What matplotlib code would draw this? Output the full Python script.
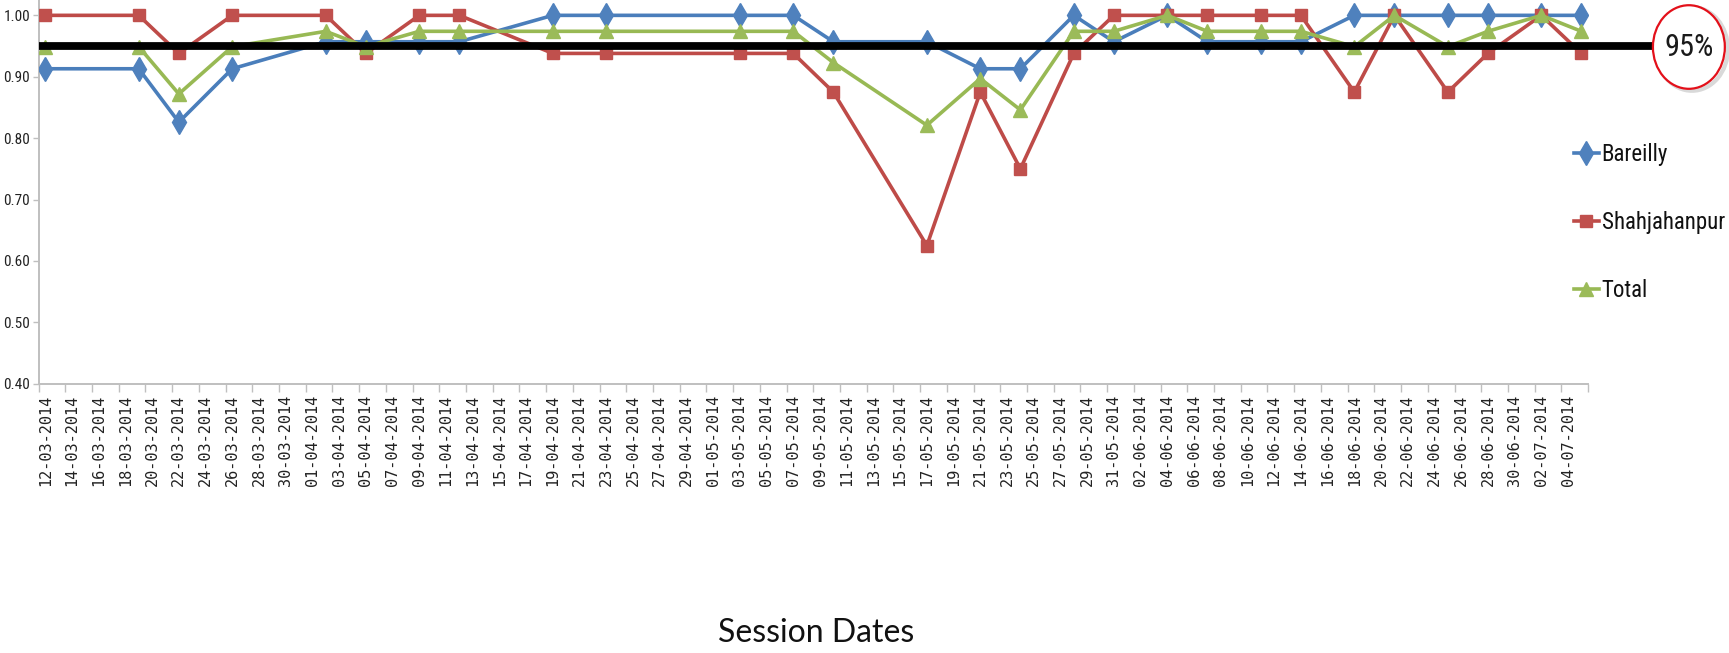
from __future__ import annotations

import matplotlib

matplotlib.use("Agg")

import matplotlib.dates as mdates
import matplotlib.pyplot as plt
import matplotlib.transforms as mtransforms
from matplotlib import font_manager
from matplotlib.patches import Ellipse
import pandas as pd


SESSION_DATES = [
    "12-03-2014", "19-03-2014", "22-03-2014", "26-03-2014", "02-04-2014",
    "05-04-2014", "09-04-2014", "12-04-2014", "19-04-2014", "23-04-2014",
    "03-05-2014", "07-05-2014", "10-05-2014", "17-05-2014", "21-05-2014",
    "24-05-2014", "28-05-2014", "31-05-2014", "04-06-2014", "07-06-2014",
    "11-06-2014", "14-06-2014", "18-06-2014", "21-06-2014", "25-06-2014",
    "28-06-2014", "02-07-2014", "05-07-2014",
]

BAREILLY = [
    0.913, 0.913, 0.826, 0.913, 0.957, 0.957, 0.957, 0.957, 1.000, 1.000,
    1.000, 1.000, 0.957, 0.957, 0.913, 0.913, 1.000, 0.957, 1.000, 0.957,
    0.957, 0.957, 1.000, 1.000, 1.000, 1.000, 1.000, 1.000,
]
SHAHJAHANPUR = [
    1.000, 1.000, 0.938, 1.000, 1.000, 0.938, 1.000, 1.000, 0.938, 0.938,
    0.938, 0.938, 0.875, 0.625, 0.875, 0.750, 0.938, 1.000, 1.000, 1.000,
    1.000, 1.000, 0.875, 1.000, 0.875, 0.938, 1.000, 0.938,
]
TOTAL = [
    0.949, 0.949, 0.872, 0.949, 0.974, 0.949, 0.974, 0.974, 0.974, 0.974,
    0.974, 0.974, 0.923, 0.821, 0.897, 0.846, 0.974, 0.974, 1.000, 0.974,
    0.974, 0.974, 0.949, 1.000, 0.949, 0.974, 1.000, 0.974,
]

TARGET = 0.95
TARGET_LABEL = "95%"

AXIS_START = "12-03-2014"
AXIS_END = "06-07-2014"
LABEL_LAST = "04-07-2014"

SERIES = [
    ("Bareilly", BAREILLY, "#4A7EBB", "#4F81BD", "d", 12),
    ("Shahjahanpur", SHAHJAHANPUR, "#BE4B48", "#C0504D", "s", 8.5),
    ("Total", TOTAL, "#98B954", "#9BBB59", "^", 9.5),
]


def _pick_family(*names: str) -> str:
    available = {f.name for f in font_manager.fontManager.ttflist}
    for name in names:
        if name in available:
            return name
    return "DejaVu Sans"


NARROW = _pick_family("Liberation Sans Narrow", "Roboto Condensed", "Liberation Sans")
TITLE_FONT = _pick_family("Lato", "Open Sans", "DejaVu Sans")


def to_num(day: str) -> float:
    return mdates.date2num(pd.to_datetime(day, format="%d-%m-%Y"))


def main() -> None:
    fig = plt.figure(figsize=(17.29, 6.53), dpi=100)
    ax = fig.add_axes([0.0223, 0.4124, 0.8962, 0.5876])

    start = to_num(AXIS_START)
    end = to_num(AXIS_END)

    # each day owns a one-day slot; sessions sit in the middle of their slot
    for name, values, line_color, marker_color, marker, size in SERIES:
        xs = [to_num(d) + 0.5 for d in SESSION_DATES]
        ax.plot(
            xs, values, color=line_color, linewidth=2.6, marker=marker,
            markersize=size, markerfacecolor=marker_color,
            markeredgecolor=marker_color, label=name, zorder=3,
        )

    # 95% target line, running past the plot area towards the badge
    trans = mtransforms.blended_transform_factory(ax.transAxes, ax.transData)
    ax.plot([0, 1.041], [TARGET, TARGET], color="black", linewidth=5.6,
            transform=trans, clip_on=False, zorder=5, solid_capstyle="butt")

    ax.set_xlim(start, end)
    ax.set_ylim(0.40, 1.025)

    major = [start + 2 * k for k in range(int((end - start) // 2) + 1)]
    ax.set_xticks(major)
    ax.set_xticklabels([])
    label_pos = [start + 2 * k + 0.5 for k in range(int((to_num(LABEL_LAST) - start) // 2) + 1)]
    ax.set_xticks(label_pos, minor=True)
    ax.set_xticklabels(
        [mdates.num2date(p).strftime("%d-%m-%Y") for p in label_pos],
        minor=True, rotation=90, fontsize=11, family="DejaVu Sans Mono",
        color="#222222",
    )
    ax.tick_params(axis="x", which="major", length=6, width=1, color="#BFBFBF",
                   direction="out")
    ax.tick_params(axis="x", which="minor", length=0, pad=8)

    ax.set_yticks([0.4, 0.5, 0.6, 0.7, 0.8, 0.9, 1.0])
    ax.set_yticklabels([f"{v:.2f}" for v in ax.get_yticks()], family=NARROW,
                       fontsize=11, color="#222222")
    ax.tick_params(axis="y", length=4, width=1, color="#BFBFBF", pad=2)

    for side in ("top", "right"):
        ax.spines[side].set_visible(False)
    for side in ("left", "bottom"):
        ax.spines[side].set_color("#BFBFBF")
        ax.spines[side].set_linewidth(1.4)

    # badge with the target value
    shadow = Ellipse((0.9786, 0.925), 0.0416, 0.128, transform=fig.transFigure,
                     facecolor="none", edgecolor="#D9D9D9", linewidth=3,
                     zorder=1)
    fig.add_artist(shadow)
    badge = Ellipse((0.9768, 0.928), 0.0416, 0.128, transform=fig.transFigure,
                    facecolor="white", edgecolor="#E3101A", linewidth=1.6,
                    zorder=2)
    fig.add_artist(badge)
    fig.text(0.9768, 0.928, TARGET_LABEL, ha="center", va="center",
             family=NARROW, fontsize=22, color="#1a1a1a", zorder=3)

    legend = ax.legend(
        loc="center left", bbox_to_anchor=(0.9035, 0.659),
        bbox_transform=fig.transFigure, frameon=False, borderpad=0,
        labelspacing=1.95, handlelength=1.1, handletextpad=0.12,
        prop={"family": NARROW, "size": 16.5},
    )
    for text in legend.get_texts():
        text.set_color("#111111")

    fig.text(0.472, 0.03, "Session Dates", ha="center", va="center",
             family=TITLE_FONT, fontsize=23, color="#111111")

    fig.savefig("out.png", dpi=100)


if __name__ == "__main__":
    main()
